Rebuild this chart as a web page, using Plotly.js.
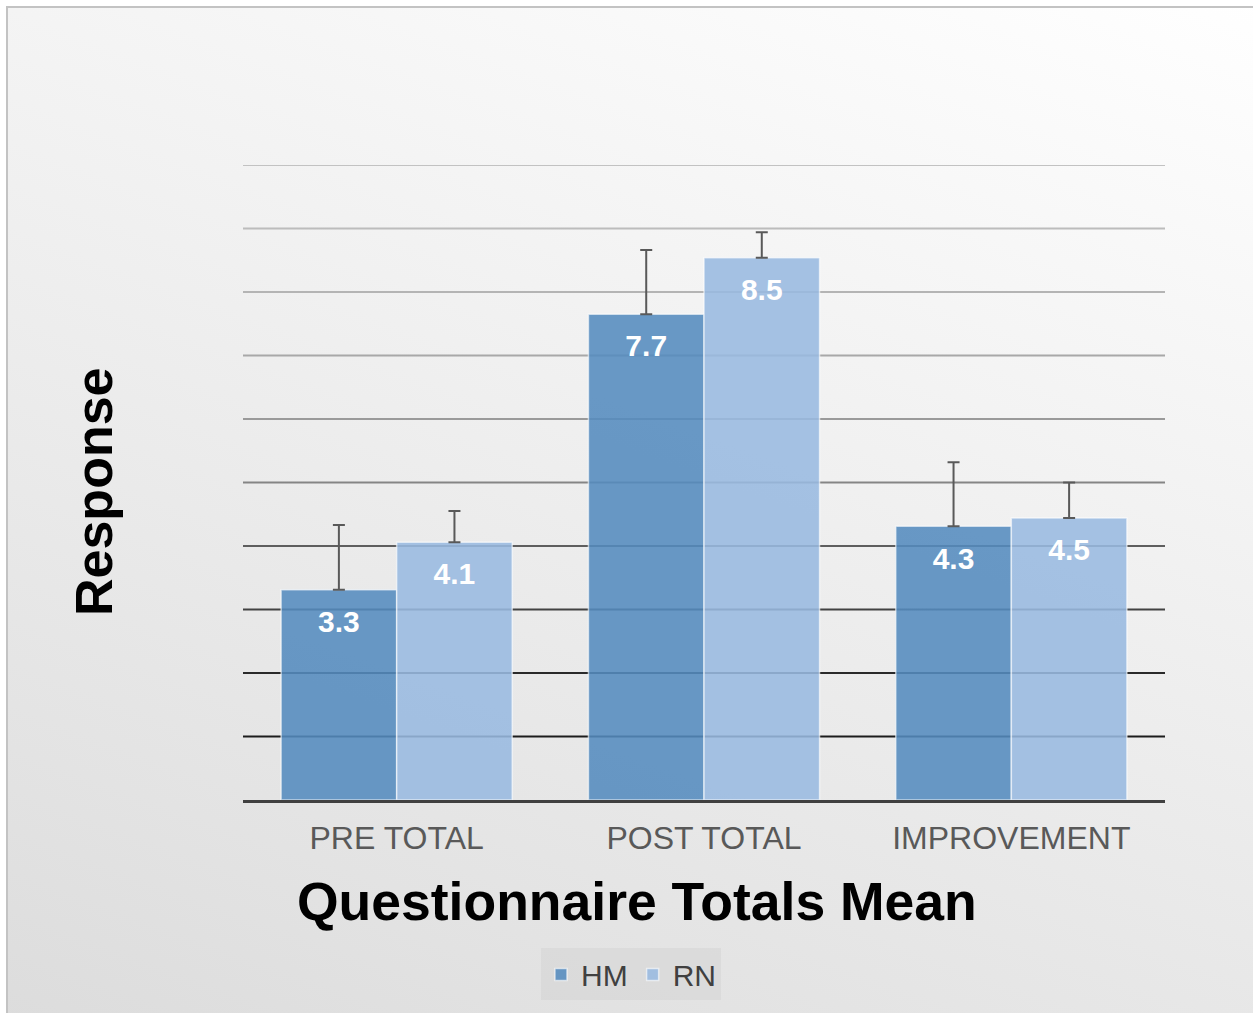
<!DOCTYPE html>
<html>
<head>
<meta charset="utf-8">
<script src="https://cdn.plot.ly/plotly-3.0.1.min.js"></script>
<style>
  html, body { margin: 0; padding: 0; background: #ffffff; overflow: hidden; }
  #bg {
    position: absolute; left: 6px; top: 6px; width: 1300px; height: 1100px;
    border-left: 2px solid #c3c3c3; border-top: 2px solid #c3c3c3;
    background: linear-gradient(200deg, #ffffff 0%, #f4f4f4 30%, #e3e3e3 77%, #dadada 100%);
  }
  #chart { position: absolute; left: 0; top: 0; width: 1253px; height: 1013px; }
</style>
</head>
<body>
<div id="bg"></div>
<div id="chart"></div>
<script>
// ---- data ----
const categories = ["PRE TOTAL", "POST TOTAL", "IMPROVEMENT"];
const hmValues = [3.31, 7.65, 4.31];
const rnValues = [4.06, 8.54, 4.44];
const hmLabels = ["3.3", "7.7", "4.3"];
const rnLabels = ["4.1", "8.5", "4.5"];
const hmErrors = [1.02, 1.01, 1.01];
const rnErrors = [0.49, 0.40, 0.56];
const gridValues = [1, 2, 3, 4, 5, 6, 7, 8, 9, 10];

// ---- styles ----
const gridColors = ["#1c1c1c", "#2a2a2a", "#424242", "#5e5e5e", "#858585",
                    "#9a9a9a", "#a8a8a8", "#b4b4b4", "#bcbcbc", "#c2c2c2"];
const FONT = "Liberation Sans, Arial, sans-serif";
const GAP = 0.248;

const errStyle = { type: "data", symmetric: false, color: "#595959", thickness: 2, width: 6 };

const traces = [
  {
    type: "bar", name: "HM", x: categories, y: hmValues, offsetgroup: "hm",
    marker: { color: "rgba(84,139,190,0.88)", line: { color: "rgba(255,255,255,0.6)", width: 1.5 } },
    error_y: Object.assign({ array: hmErrors, arrayminus: hmErrors.map(() => 0) }, errStyle),
    hoverinfo: "skip"
  },
  {
    type: "bar", name: "RN", x: categories, y: rnValues, offsetgroup: "rn",
    marker: { color: "rgba(152,185,224,0.88)", line: { color: "rgba(255,255,255,0.6)", width: 1.5 } },
    error_y: Object.assign({ array: rnErrors, arrayminus: rnErrors.map(() => 0) }, errStyle),
    hoverinfo: "skip"
  },
  {
    type: "scatter", mode: "markers+text", x: categories, y: hmValues, offsetgroup: "hm",
    text: hmLabels, textposition: "bottom center",
    textfont: { family: FONT, size: 30, color: "#ffffff", weight: "bold" },
    marker: { size: 30, opacity: 0 }, showlegend: false, hoverinfo: "skip"
  },
  {
    type: "scatter", mode: "markers+text", x: categories, y: rnValues, offsetgroup: "rn",
    text: rnLabels, textposition: "bottom center",
    textfont: { family: FONT, size: 30, color: "#ffffff", weight: "bold" },
    marker: { size: 30, opacity: 0 }, showlegend: false, hoverinfo: "skip"
  }
];

const shapes = gridValues.map((v, i) => ({
  type: "line", layer: "below", xref: "paper", x0: 0, x1: 1, yref: "y", y0: v, y1: v,
  line: { color: gridColors[i], width: 2 }
}));

const layout = {
  width: 1253, height: 1013,
  margin: { l: 243, r: 88, t: 165, b: 213 },
  paper_bgcolor: "rgba(0,0,0,0)", plot_bgcolor: "rgba(0,0,0,0)",
  barmode: "group", bargap: GAP, bargroupgap: 0,
  scattermode: "group", scattergap: GAP,
  font: { family: FONT },
  xaxis: {
    showgrid: false, zeroline: false, showline: true, linecolor: "#404040", linewidth: 3,
    tickfont: { family: FONT, size: 32, color: "#595959" }, ticks: "", ticklabelstandoff: 8
  },
  yaxis: {
    range: [0, 10], showgrid: false, zeroline: false, showticklabels: false, showline: false, ticks: ""
  },
  shapes: shapes,
  showlegend: true,
  legend: {
    orientation: "h", x: 0.4208, xanchor: "center", y: -0.2748, yanchor: "middle",
    bgcolor: "rgba(0,0,0,0.035)", font: { family: FONT, size: 30, color: "#404040" },
    itemclick: false
  },
  annotations: [
    {
      text: "Questionnaire Totals Mean", xref: "paper", yref: "paper", x: 0.4268, y: -0.160,
      xanchor: "center", yanchor: "middle", showarrow: false,
      font: { family: FONT, size: 53.5, color: "#000000", weight: "bold" }
    },
    {
      text: "Response", xref: "paper", yref: "paper", x: -0.1616, y: 0.485, textangle: -90,
      xanchor: "center", yanchor: "middle", showarrow: false,
      font: { family: FONT, size: 52, color: "#000000", weight: "bold" }
    }
  ]
};

Plotly.newPlot("chart", traces, layout, { displayModeBar: false, staticPlot: true });
</script>
</body>
</html>
